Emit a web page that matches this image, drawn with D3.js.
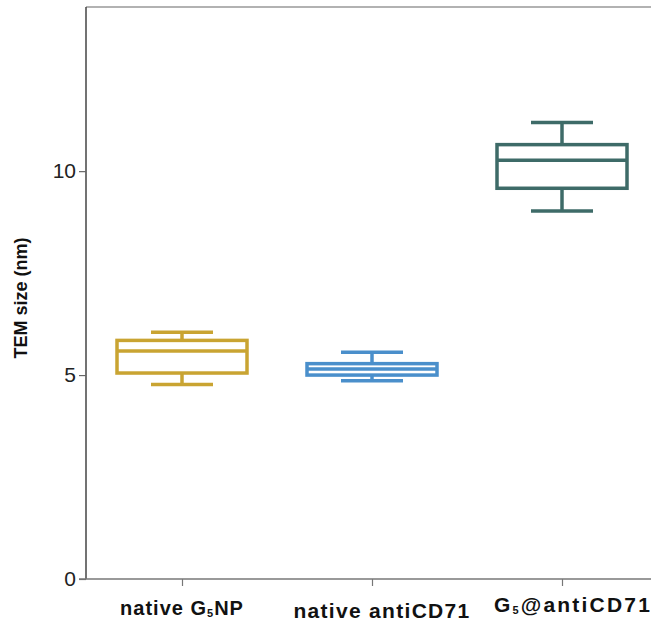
<!DOCTYPE html>
<html>
<head>
<meta charset="utf-8">
<script src="https://cdn.jsdelivr.net/npm/d3@7/dist/d3.min.js"></script>
<style>
  html, body { margin: 0; padding: 0; background: #fff; }
  svg { display: block; font-family: Arial, "Liberation Sans", sans-serif; }
</style>
</head>
<body>
<svg id="chart" width="651" height="624"></svg>
<script>
// Groups and their box-plot statistics (TEM size, nm)
const groups = ["native G5NP", "native antiCD71", "G5@antiCD71"];
const whiskerLow  = [4.77, 4.86, 9.02];
const quartile1   = [5.05, 5.00, 9.58];
const medians     = [5.59, 5.15, 10.27];
const quartile3   = [5.85, 5.28, 10.65];
const whiskerHigh = [6.05, 5.56, 11.19];
const colors      = ["#C9A432", "#4A8FCB", "#3E6B68"];
const yTicks      = [0, 5, 10];

(function draw() {
  const svg = d3.select("#chart");
  const plotLeft = 86, plotBottom = 579, plotTop = 8, plotRight = 651;

  const y = d3.scaleLinear().domain([0, 14]).range([plotBottom, plotTop]);
  const x = d3.scalePoint().domain(groups).range([182, 562]);

  const boxW = 130, capW = 62, sw = 3.5;

  // Top frame line
  svg.append("line").attr("x1", plotLeft).attr("x2", plotRight)
    .attr("y1", plotTop - 1).attr("y2", plotTop - 1)
    .attr("stroke", "#666").attr("stroke-width", 1.2);

  // Y axis
  const yAxis = svg.append("g").attr("transform", `translate(${plotLeft},0)`)
    .call(d3.axisLeft(y).tickValues(yTicks).tickFormat(d3.format("d")).tickSize(7).tickPadding(3));
  yAxis.attr("font-size", null).attr("font-family", null);
  yAxis.select(".domain").attr("stroke", "#444").attr("stroke-width", 1.5)
    .attr("d", `M0,${plotBottom}V${plotTop - 1}`);
  yAxis.selectAll(".tick line").attr("stroke", "#666").attr("stroke-width", 1.2);
  yAxis.selectAll(".tick text").style("font-size", "21px").attr("fill", "#222");

  // X axis
  const xAxis = svg.append("g").attr("transform", `translate(0,${plotBottom})`)
    .call(d3.axisBottom(x).tickSize(7).tickFormat(""));
  xAxis.select(".domain").attr("stroke", "#777").attr("stroke-width", 1.5)
    .attr("d", `M${plotLeft - 7},0H${plotRight}`);
  xAxis.selectAll(".tick line").attr("stroke", "#777").attr("stroke-width", 1.2);

  // Category labels with subscripted 5
  const labelParts = [
    [["native G", false], ["5", true], ["NP", false]],
    [["native antiCD71", false]],
    [["G", false], ["5", true], ["@antiCD71", false]]
  ];
  const labelStyle = [
    { dx: 0, dy: 0, size: 20, spacing: 1 },
    { dx: 10, dy: 3, size: 21, spacing: 1.3 },
    { dx: 11, dy: -3, size: 21, spacing: 2.2 }
  ];
  groups.forEach((g, i) => {
    const st = labelStyle[i];
    const t = svg.append("text")
      .attr("x", x(g) + st.dx)
      .attr("y", 615 + st.dy)
      .attr("text-anchor", "middle")
      .style("font-size", st.size + "px").attr("font-weight", "bold")
      .attr("letter-spacing", st.spacing).attr("fill", "#111");
    let prevSub = false;
    labelParts[i].forEach(([s, sub]) => {
      const ts = t.append("tspan").text(s);
      if (sub) ts.style("font-size", "11px").attr("dy", 2);
      else if (prevSub) ts.attr("dy", -2);
      prevSub = sub;
    });
  });

  // Y axis title
  svg.append("text")
    .attr("transform", "translate(27,298) rotate(-90)")
    .attr("text-anchor", "middle")
    .style("font-size", "18px").attr("font-weight", "bold").attr("fill", "#111")
    .text("TEM size (nm)");

  // Box plots
  groups.forEach((g, i) => {
    const cx = x(g), c = colors[i];
    const grp = svg.append("g").attr("stroke", c).attr("stroke-width", sw).attr("fill", "none");
    // whiskers
    grp.append("line").attr("x1", cx).attr("x2", cx).attr("y1", y(whiskerHigh[i])).attr("y2", y(quartile3[i]));
    grp.append("line").attr("x1", cx).attr("x2", cx).attr("y1", y(quartile1[i])).attr("y2", y(whiskerLow[i]));
    // caps
    grp.append("line").attr("x1", cx - capW / 2).attr("x2", cx + capW / 2)
      .attr("y1", y(whiskerHigh[i])).attr("y2", y(whiskerHigh[i]));
    grp.append("line").attr("x1", cx - capW / 2).attr("x2", cx + capW / 2)
      .attr("y1", y(whiskerLow[i])).attr("y2", y(whiskerLow[i]));
    // box
    grp.append("rect").attr("x", cx - boxW / 2).attr("width", boxW)
      .attr("y", y(quartile3[i])).attr("height", y(quartile1[i]) - y(quartile3[i]));
    // median
    grp.append("line").attr("x1", cx - boxW / 2).attr("x2", cx + boxW / 2)
      .attr("y1", y(medians[i])).attr("y2", y(medians[i]));
  });
})();
</script>
</body>
</html>
